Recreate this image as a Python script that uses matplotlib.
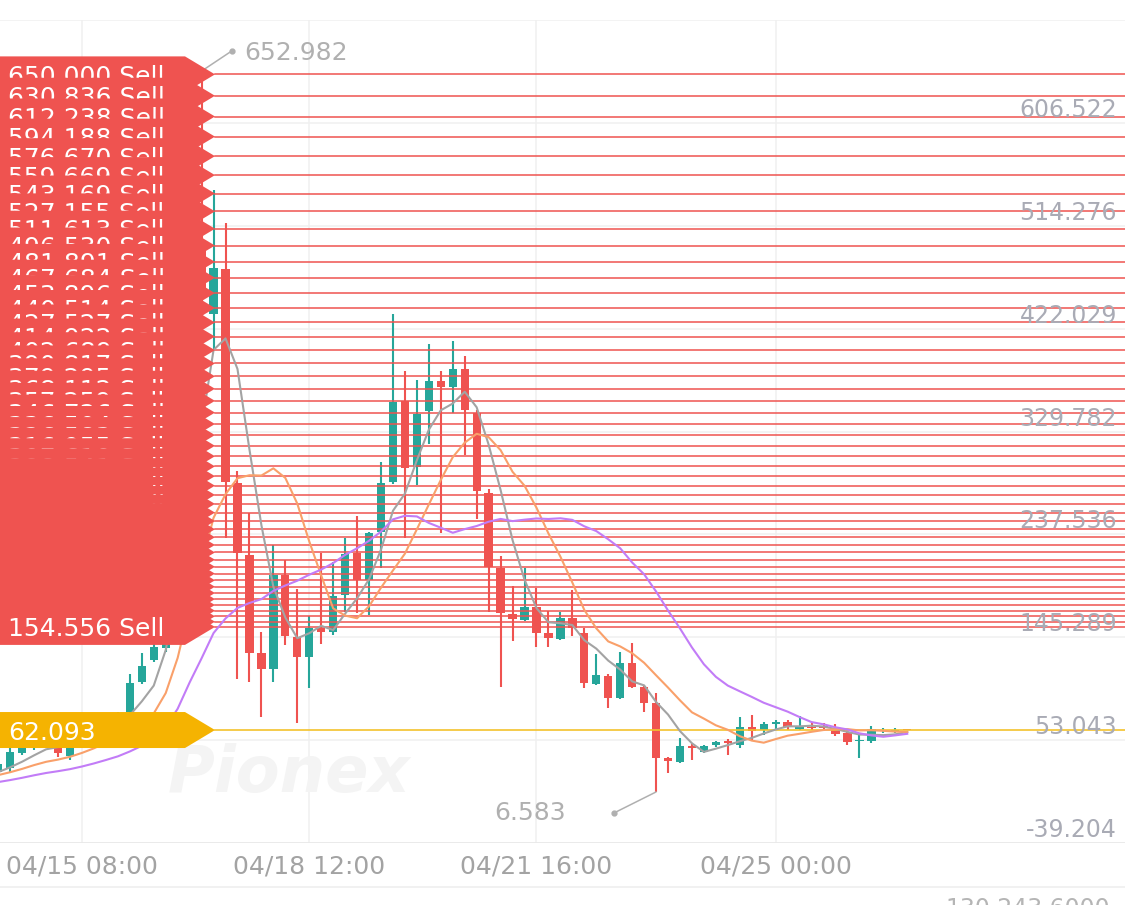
import numpy as np
import pandas as pd
import matplotlib
matplotlib.use("Agg")
import matplotlib.pyplot as plt
from matplotlib.patches import Polygon, Rectangle
from matplotlib.lines import Line2D
import matplotlib.transforms as mtransforms

# ---------------- data ----------------
start_time = pd.Timestamp("2025-04-15 08:00")   # time of candle index 0
candle_hours = 4
first_index = -7                                  # first candle shown (index relative to start_time)

opens = [24.4, 28.0, 41.4, 45.9, 53.0, 45.9, 38.7, 48.6, 56.6, 64.7, 71.0, 78.1, 105.0, 124.7,
         135.4, 232.2, 357.6, 491.9, 435.5, 475.8, 283.2, 218.7, 131.0, 116.6, 200.8, 145.3,
         127.4, 153.4, 149.8, 182.9, 220.5, 196.4, 239.3, 284.1, 356.7, 297.6, 348.6, 375.5,
         370.1, 386.2, 346.8, 274.3, 207.1, 165.9, 160.5, 172.2, 148.9, 143.5, 162.3, 148.9,
         103.2, 110.4, 90.7, 122.0, 100.5, 86.2, 36.9, 33.4, 47.7, 42.3, 48.6, 52.2, 48.6,
         64.7, 62.0, 67.4, 69.2, 62.9, 64.7, 65.6, 62.9, 59.3, 52.2, 52.2, 61.1, 61.1, 62.6]
highs = [35.1, 45.9, 53.0, 57.5, 56.6, 47.7, 49.5, 62.0, 71.0, 76.3, 78.1, 112.2, 131.0, 160.5,
         245.0, 372.0, 515.0, 652.982, 546.5, 517.0, 294.0, 256.4, 149.8, 227.7, 214.3, 188.3,
         164.1, 220.5, 212.5, 234.0, 253.7, 239.3, 302.0, 435.5, 384.4, 376.4, 408.6, 384.4,
         411.3, 397.9, 349.5, 277.9, 217.9, 191.0, 207.1, 189.2, 168.6, 167.7, 187.4, 153.4,
         130.1, 112.2, 131.9, 139.9, 101.4, 95.1, 37.8, 54.9, 49.5, 48.6, 52.2, 53.9, 73.7,
         75.4, 69.2, 71.0, 71.0, 74.5, 69.2, 68.3, 67.4, 62.9, 57.5, 65.6, 63.8, 63.8, 63.0]
lows = [21.7, 24.4, 39.6, 44.1, 45.9, 37.8, 35.1, 45.9, 53.0, 62.0, 67.4, 76.3, 103.2, 122.9,
        131.9, 225.0, 345.0, 430.0, 404.1, 234.0, 107.7, 105.0, 73.7, 105.0, 138.1, 68.3,
        99.6, 139.0, 147.1, 167.7, 166.8, 165.0, 207.1, 282.3, 234.0, 281.4, 318.2, 238.4,
        346.8, 308.3, 251.0, 167.7, 100.5, 141.7, 159.6, 136.3, 136.3, 142.6, 146.2, 99.6,
        102.3, 81.7, 89.8, 99.6, 78.1, 6.583, 23.5, 32.5, 35.1, 41.4, 46.8, 39.6, 45.9,
        52.2, 57.5, 62.9, 62.0, 62.0, 62.0, 62.0, 56.6, 48.6, 36.9, 50.4, 59.3, 59.3, 61.8]
closes = [31.6, 42.3, 47.7, 53.0, 49.5, 41.4, 45.9, 57.5, 65.6, 72.8, 77.2, 104.1, 119.3, 136.3,
          232.2, 357.6, 491.9, 456.1, 476.7, 284.1, 220.5, 131.0, 116.6, 200.8, 146.2, 127.4,
          153.4, 149.8, 182.0, 219.6, 196.4, 238.4, 283.2, 355.8, 296.7, 345.9, 375.5, 370.1,
          386.2, 349.5, 276.1, 208.0, 166.8, 161.4, 172.2, 148.9, 144.4, 162.3, 153.4, 104.1,
          111.3, 90.7, 122.0, 100.5, 86.2, 36.9, 34.3, 47.7, 45.9, 47.7, 51.3, 50.4, 64.7,
          61.1, 67.4, 69.2, 64.7, 64.7, 63.8, 63.8, 58.4, 51.3, 53.0, 62.9, 62.0, 62.0, 62.093]
# closes of the candles just before the visible window (hidden, only feed the moving averages)
prior_closes = [6.5, 7.2, 7.8, 8.4, 9.0, 9.5, 10.0, 10.6, 11.2, 11.8,
                16.5, 17.8, 19.0, 20.2, 21.5, 20.8, 22.6, 24.4, 22.6]
ma_periods = [5, 10, 20]

sell_levels = [650.000, 630.836, 612.238, 594.188, 576.670, 559.669, 543.169, 527.155,
               511.613, 496.530, 481.891, 467.684, 453.896, 440.514, 427.527, 414.922,
               402.689, 390.817, 379.295, 368.112, 357.259, 346.726, 336.504, 326.583,
               316.955, 307.610, 298.541, 289.739, 281.197, 272.907, 264.861, 257.052,
               249.474, 242.119, 234.981, 228.053, 221.330, 214.805, 208.472, 202.326,
               196.361, 190.572, 184.953, 179.500, 174.208, 169.072, 164.087, 159.249, 154.556]
current_price = 62.093
max_label = 652.982
min_label = 6.583
y_ticks = [-39.204, 53.043, 145.289, 237.536, 329.782, 422.029, 514.276, 606.522, 698.769]
x_tick_times = ["2025-04-15 08:00", "2025-04-18 12:00", "2025-04-21 16:00", "2025-04-25 00:00"]
x_tick_labels = ["04/15 08:00", "04/18 12:00", "04/21 16:00", "04/25 00:00"]
volume_label = "130,243.6000"

# ---------------- derived ----------------
n = len(closes)
xs = np.array([(first_index + i) * candle_hours for i in range(n)], dtype=float)
allc = pd.Series(prior_closes + closes)
mas = [allc.rolling(p).mean().to_numpy()[-n:] for p in ma_periods]
tick_x = [(pd.Timestamp(t) - start_time) / pd.Timedelta(hours=1) for t in x_tick_times]

# ---------------- style ----------------
W, H = 1125, 905
UP = "#26A69A"
DOWN = "#EF5350"
LABEL_RED = "#EF5350"
YELLOW = "#F5B301"
MA_COLORS = ["#A3A3A3", "#F9A06A", "#C27CF7"]
GRID = "#F0F0F0"
YTXT = "#A9ABB5"
XTXT = "#A3A3A3"
FONT = "DejaVu Sans"

fig = plt.figure(figsize=(W / 100, H / 100), dpi=100)
fig.patch.set_facecolor("white")
ax_top_px, ax_bot_px = 20, 843
ax = fig.add_axes([0, (H - ax_bot_px) / H, 1, (ax_bot_px - ax_top_px) / H])
ax.set_facecolor("white")
px_per_h = 2.99
x0_px = 82
ax.set_xlim(-x0_px / px_per_h, (W - x0_px) / px_per_h)
ax.set_ylim(y_ticks[0], y_ticks[-1])
for s in ax.spines.values():
    s.set_visible(False)
ax.set_xticks([])
ax.set_yticks([])

ypp = (y_ticks[-1] - y_ticks[0]) / (ax_bot_px - ax_top_px)  # data units per pixel
xpp = 1 / px_per_h

# grid
for v in y_ticks:
    ax.axhline(v, color=GRID, lw=1.1, zorder=0)
for t in tick_x:
    ax.axvline(t, color=GRID, lw=1.1, zorder=0)
ax.axhline(y_ticks[0], color="#E8E8E8", lw=1.1, zorder=0.5)
fig.add_artist(Line2D([0, 1], [(H - 887) / H] * 2, color="#EEEEEE", lw=1.1))

# watermark
ax.text(168 / W, (ax_bot_px - 774) / (ax_bot_px - ax_top_px), "Pionex", transform=ax.transAxes,
        fontsize=46, fontweight="bold", fontstyle="italic", color="#F4F4F4",
        ha="left", va="center", family=FONT, zorder=0.6)

# candles
body_w = 8.3 * xpp
for x, o, h, l, c in zip(xs, opens, highs, lows, closes):
    col = UP if c >= o else DOWN
    ax.plot([x, x], [l, h], color=col, lw=1.5, solid_capstyle="butt", zorder=2)
    bh = max(abs(c - o), 1.2 * ypp)
    ax.add_patch(Rectangle((x - body_w / 2, min(o, c)), body_w, bh, facecolor=col,
                           edgecolor="none", zorder=2.1))

# grid order lines
tip_frac = 215 / W
box_frac = 185 / W
for v in sell_levels:
    ax.axhline(v, xmin=tip_frac, xmax=1, color=LABEL_RED, lw=1.1, zorder=3)
ax.axhline(current_price, xmin=tip_frac, xmax=1, color="#F3C22C", lw=1.2, zorder=3)

# moving averages
for m, col in zip(mas, MA_COLORS):
    ax.plot(xs, m, color=col, lw=1.5, zorder=4, solid_joinstyle="round")

# y labels
blend = mtransforms.blended_transform_factory(ax.transAxes, ax.transData)
for v in y_ticks[:-1]:
    ax.text(1117 / W, v + 1 * ypp, f"{v:.3f}", transform=blend, ha="right", va="bottom",
            color=YTXT, fontsize=17, family=FONT, zorder=4.5)

# x labels
blend_x = mtransforms.blended_transform_factory(ax.transData, ax.transAxes)
for t, lab in zip(tick_x, x_tick_labels):
    ax.text(t, -(866 - ax_bot_px) / (ax_bot_px - ax_top_px), lab, transform=blend_x,
            ha="center", va="center", color=XTXT, fontsize=18, family=FONT, clip_on=False)

# partially visible value below the chart (cut by the image edge, as in the screenshot)
fig.text(1110 / W, (H - 909) / H, volume_label,
         ha="right", va="center", color="#B5B5B5", fontsize=17, family=FONT)

# max / min annotations
def annotate_extreme(x, v, dot_off, text_off, ha, text):
    dot_tr = mtransforms.offset_copy(ax.transData, fig=fig, x=dot_off[0], y=dot_off[1], units="dots")
    txt_tr = mtransforms.offset_copy(ax.transData, fig=fig, x=text_off[0], y=text_off[1], units="dots")
    ax.annotate("", xy=(x, v), xytext=dot_off, textcoords="offset pixels",
                arrowprops=dict(arrowstyle="-", color="#B0B0B0", lw=1.1, shrinkA=0, shrinkB=0),
                zorder=4)
    ax.plot([x], [v], marker="o", ms=3.5, color="#B0B0B0", transform=dot_tr, zorder=4,
            clip_on=False)
    ax.text(x, v, text, transform=txt_tr, ha=ha, va="center", color="#B0B0B0",
            fontsize=18, family=FONT, zorder=4)

i_max = int(np.argmax(highs))
i_min = int(np.argmin(lows))
annotate_extreme(xs[i_max], max_label, (30, 20), (43, 18), "left", f"{max_label:.3f}")
annotate_extreme(xs[i_min], min_label, (-42, -21), (-90, -21), "right", f"{min_label:.3f}")

# price tags on the left
half = 18 * ypp
def tag(v, color, text, z):
    verts = [(-0.01, v - half), (box_frac, v - half), (tip_frac, v), (box_frac, v + half), (-0.01, v + half)]
    ax.add_patch(Polygon(verts, closed=True, transform=blend, facecolor=color,
                         edgecolor="none", zorder=z, clip_on=False))
    ax.text(8 / W, v, text, transform=blend, ha="left", va="center_baseline", color="white",
            fontsize=18, family=FONT, zorder=z + 0.5)

for i, v in enumerate(sell_levels):
    tag(v, LABEL_RED, f"{v:.3f} Sell", 10 + i)
tag(current_price, YELLOW, f"{current_price:.3f}", 70)

fig.savefig("out.png", dpi=100, facecolor="white")
